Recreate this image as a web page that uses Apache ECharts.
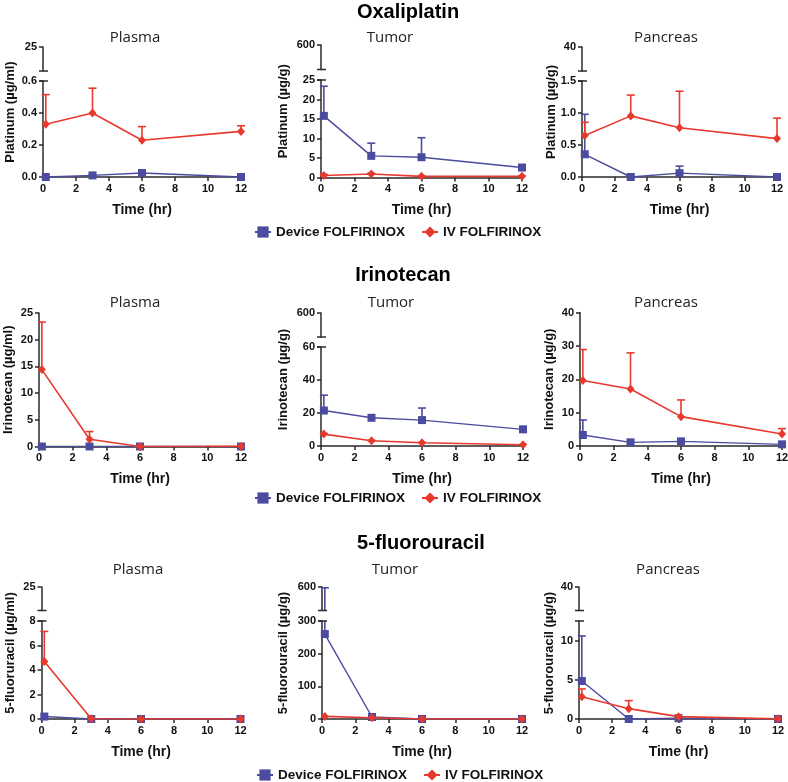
<!DOCTYPE html>
<html>
<head>
<meta charset="utf-8">
<script src="https://cdn.jsdelivr.net/npm/echarts@6/dist/echarts.min.js"></script>
<style>html,body{margin:0;padding:0;background:#fff}#main{width:788px;height:782px}</style>
</head>
<body>
<div id="main"></div>
<script>
// ---------------- DATA ----------------
const timePoints = [0.17, 3, 6, 12];
const seriesNames = ['Device FOLFIRINOX', 'IV FOLFIRINOX'];
const rowTitles = ['Oxaliplatin', 'Irinotecan', '5-fluorouracil'];
const tissueNames = ['Plasma', 'Tumor', 'Pancreas'];
const yAxisNames = [
  'Platinum (µg/ml)', 'Platinum (µg/g)', 'Platinum (µg/g)',
  'Irinotecan (µg/ml)', 'Irinotecan (µg/g)', 'Irinotecan (µg/g)',
  '5-fluoruracil (µg/ml)', '5-fluorouracil (µg/g)', '5-fluorouracil (µg/g)'
];
const xTicks = [0, 2, 4, 6, 8, 10, 12];

// Oxaliplatin
const oxPlasmaDevice = [0.0, 0.01, 0.025, 0.0];
const oxPlasmaDeviceTop = [0.0, 0.015, 0.035, 0.0];
const oxPlasmaIV = [0.33, 0.40, 0.23, 0.285];
const oxPlasmaIVTop = [0.515, 0.555, 0.315, 0.32];
const oxTumorDevice = [15.8, 5.55, 5.2, 2.56];
const oxTumorDeviceTop = [23.4, 8.8, 10.2, 2.9];
const oxTumorIV = [0.5, 0.9, 0.3, 0.3];
const oxTumorIVTop = [0.8, 1.1, 0.4, 0.4];
const oxPancDevice = [0.355, 0.0, 0.06, 0.0];
const oxPancDeviceTop = [0.98, 0.0, 0.17, 0.0];
const oxPancIV = [0.65, 0.955, 0.77, 0.6];
const oxPancIVTop = [0.855, 1.28, 1.34, 0.92];
// Irinotecan
const irPlasmaDevice = [0.0, 0.0, 0.0, 0.0];
const irPlasmaDeviceTop = [0.0, 0.0, 0.0, 0.0];
const irPlasmaIV = [14.4, 1.37, 0.0, 0.05];
const irPlasmaIVTop = [23.3, 2.8, 0.0, 0.05];
const irTumorDevice = [21.5, 17.1, 15.7, 10.1];
const irTumorDeviceTop = [30.8, 17.1, 23.0, 11.5];
const irTumorIV = [7.2, 3.2, 2.0, 0.8];
const irTumorIVTop = [7.6, 3.4, 2.2, 1.0];
const irPancDevice = [3.3, 1.1, 1.4, 0.5];
const irPancDeviceTop = [7.8, 1.1, 1.4, 0.5];
const irPancIV = [19.6, 17.1, 8.8, 3.6];
const irPancIVTop = [28.9, 27.9, 13.8, 5.2];
// 5-fluorouracil
const fuPlasmaDevice = [0.2, 0.0, 0.0, 0.0];
const fuPlasmaDeviceTop = [0.2, 0.0, 0.0, 0.0];
const fuPlasmaIV = [4.7, 0.02, 0.0, 0.0];
const fuPlasmaIVTop = [7.15, 0.02, 0.0, 0.0];
const fuTumorDevice = [260, 6.1, 0.0, 0.0];
const fuTumorDeviceTop = [590, 6.1, 0.0, 0.0];
const fuTumorIV = [8, 4, 0.0, 0.0];
const fuTumorIVTop = [8, 4, 0.0, 0.0];
const fuPancDevice = [4.85, 0.0, 0.1, 0.0];
const fuPancDeviceTop = [10.6, 0.0, 0.1, 0.0];
const fuPancIV = [2.85, 1.32, 0.3, 0.02];
const fuPancIVTop = [3.83, 2.34, 0.3, 0.02];

// ---------------- LAYOUT / STYLE ----------------
const BLUE = '#4b4b9f', RED = '#e8392e', AX = '#2a2a2a', TXT = '#111';
const FONT = '"Liberation Sans", Arial, sans-serif';
const SUBFONT = '"Open Sans", "Noto Sans", sans-serif';

const panels = [
  {x:43, w:198, upper:{top:47, bottom:71, min:0, max:25}, lower:{top:81, bottom:177, max:0.6, interval:0.2, dec:1}, gap:26,
   dev:oxPlasmaDevice, devTop:oxPlasmaDeviceTop, iv:oxPlasmaIV, ivTop:oxPlasmaIVTop},
  {x:321, w:201, upper:{top:45, bottom:69.5, min:0, max:600}, lower:{top:80, bottom:177.5, max:25, interval:5}, gap:31,
   dev:oxTumorDevice, devTop:oxTumorDeviceTop, iv:oxTumorIV, ivTop:oxTumorIVTop},
  {x:582, w:195, upper:{top:47, bottom:71, min:0, max:40}, lower:{top:81, bottom:177, max:1.5, interval:0.5, dec:1}, gap:24,
   dev:oxPancDevice, devTop:oxPancDeviceTop, iv:oxPancIV, ivTop:oxPancIVTop},
  {x:39, w:202, upper:null, lower:{top:313, bottom:446.5, max:25, interval:5}, gap:24,
   dev:irPlasmaDevice, devTop:irPlasmaDeviceTop, iv:irPlasmaIV, ivTop:irPlasmaIVTop},
  {x:321, w:202, upper:{top:313, bottom:337, min:0, max:600}, lower:{top:347, bottom:446, max:60, interval:20}, gap:31,
   dev:irTumorDevice, devTop:irTumorDeviceTop, iv:irTumorIV, ivTop:irTumorIVTop},
  {x:580, w:202, upper:null, lower:{top:312.5, bottom:446, max:40, interval:10}, gap:24,
   dev:irPancDevice, devTop:irPancDeviceTop, iv:irPancIV, ivTop:irPancIVTop},
  {x:41.5, w:199, upper:{top:587, bottom:610.5, min:0, max:25}, lower:{top:621, bottom:719, max:8, interval:2}, gap:25,
   dev:fuPlasmaDevice, devTop:fuPlasmaDeviceTop, iv:fuPlasmaIV, ivTop:fuPlasmaIVTop},
  {x:322, w:200, upper:{top:587, bottom:610.5, min:300, max:600}, lower:{top:621, bottom:719, max:300, interval:100}, gap:32,
   dev:fuTumorDevice, devTop:fuTumorDeviceTop, iv:fuTumorIV, ivTop:fuTumorIVTop},
  {x:579, w:199, upper:{top:587, bottom:610.5, min:0, max:40}, lower:{top:621, bottom:719, max:12.5, interval:5, hideMax:true}, gap:23,
   dev:fuPancDevice, devTop:fuPancDeviceTop, iv:fuPancIV, ivTop:fuPancIVTop}
];
const rowTitlePos = [[408, 12], [403, 275], [421, 543]];
const subTitlePos = [[[135,38],[390,38],[666,38]], [[135,303],[391,303],[666,303]], [[138,570],[395,570],[668,570]]];
const legendTop = [225, 491, 768];
const legendLeft = [254, 254, 256];

// ---------------- BUILD ----------------
const grids = [], xAxes = [], yAxes = [], series = [], titles = [], legends = [];
const axisLineStyle = {lineStyle: {color: AX, width: 1.5}};
const tickLabel = {color: TXT, fontFamily: FONT, fontWeight: 'bold', fontSize: 11};

function errRender(lo, hi, color) {
  return function (params, api) {
    const x = api.value(0), v = api.value(1), top = api.value(2);
    const a = Math.max(v, lo), b = Math.min(top, hi);
    if (!(b > a)) return null;
    const p1 = api.coord([x, a]), p2 = api.coord([x, b]);
    const children = [{type: 'line', shape: {x1: p1[0], y1: p1[1], x2: p2[0], y2: p2[1]}, style: {stroke: color, lineWidth: 1.6}}];
    if (top <= hi) children.push({type: 'line', shape: {x1: p2[0] - 4, y1: p2[1], x2: p2[0] + 4, y2: p2[1]}, style: {stroke: color, lineWidth: 1.6}});
    return {type: 'group', children: children};
  };
}
function breakRender(params, api) {
  const p = api.coord([api.value(0), api.value(1)]);
  return {type: 'line', shape: {x1: p[0] - 4, y1: p[1], x2: p[0] + 5, y2: p[1]}, style: {stroke: AX, lineWidth: 1.5}};
}
function addGrid(left, top, bottom, w) {
  grids.push({left: left, top: top, width: w, height: bottom - top, containLabel: false, outerBoundsMode: 'none'});
  return grids.length - 1;
}
function pairs(vals, tops) { return timePoints.map((t, k) => [t, vals[k], tops[k]]); }

panels.forEach((p, i) => {
  const row = Math.floor(i / 3);
  const fullTop = p.upper ? p.upper.top : p.lower.top;
  // frame grid, carries the y-axis title centred on the whole (broken) axis
  const fi = addGrid(p.x, fullTop, p.lower.bottom, p.w);
  xAxes.push({gridIndex: fi, show: false, type: 'value', min: 0, max: 12});
  yAxes.push({gridIndex: fi, type: 'value', min: 0, max: 1, axisLine: {show: false}, axisTick: {show: false},
    axisLabel: {show: false}, splitLine: {show: false}, name: yAxisNames[i], nameLocation: 'middle', nameGap: p.gap,
    nameTextStyle: {color: TXT, fontFamily: FONT, fontWeight: 'bold', fontSize: 13}});

  // lower (main) grid
  const L = p.lower;
  const li = addGrid(p.x, L.top, L.bottom, p.w);
  xAxes.push({gridIndex: li, type: 'value', min: 0, max: 12, interval: 2, axisLine: axisLineStyle,
    axisTick: {show: true, length: 4, lineStyle: {color: AX, width: 1.5}}, splitLine: {show: false},
    axisLabel: Object.assign({margin: 6}, tickLabel), name: 'Time (hr)', nameLocation: 'middle', nameGap: 26,
    nameTextStyle: {color: TXT, fontFamily: FONT, fontWeight: 'bold', fontSize: 14}});
  yAxes.push({gridIndex: li, type: 'value', min: 0, max: L.max, interval: L.interval, axisLine: axisLineStyle,
    axisTick: {show: true, length: 4, lineStyle: {color: AX, width: 1.5}}, splitLine: {show: false},
    axisLabel: Object.assign({margin: 6, showMaxLabel: !L.hideMax, formatter: v => L.dec ? v.toFixed(L.dec) : String(v)}, tickLabel)});

  series.push({type: 'custom', name: 'err-dev', xAxisIndex: li, yAxisIndex: li, z: 1, silent: true,
    renderItem: errRender(0, L.max, BLUE), data: pairs(p.dev, p.devTop)});
  series.push({type: 'custom', name: 'err-iv', xAxisIndex: li, yAxisIndex: li, z: 1, silent: true,
    renderItem: errRender(0, L.max, RED), data: pairs(p.iv, p.ivTop)});
  series.push({type: 'line', name: seriesNames[0], xAxisIndex: li, yAxisIndex: li, z: 3, symbol: 'rect', symbolSize: 8,
    itemStyle: {color: BLUE}, lineStyle: {color: BLUE, width: 1.4}, data: timePoints.map((t, k) => [t, p.dev[k]])});
  series.push({type: 'line', name: seriesNames[1], xAxisIndex: li, yAxisIndex: li, z: 4, symbol: 'diamond', symbolSize: [8, 9],
    itemStyle: {color: RED}, lineStyle: {color: RED, width: 1.6}, data: timePoints.map((t, k) => [t, p.iv[k]])});

  if (p.upper) {
    const U = p.upper;
    const gapStart = Math.max(U.min, L.max);
    const ui = addGrid(p.x, U.top, U.bottom, p.w);
    xAxes.push({gridIndex: ui, show: false, type: 'value', min: 0, max: 12});
    yAxes.push({gridIndex: ui, type: 'value', min: U.min, max: U.max, interval: U.max - U.min, axisLine: axisLineStyle,
      axisTick: {show: true, length: 4, lineStyle: {color: AX, width: 1.5}}, splitLine: {show: false},
      axisLabel: Object.assign({margin: 6, showMinLabel: false}, tickLabel)});
    series.push({type: 'custom', name: 'err-dev-up', xAxisIndex: ui, yAxisIndex: ui, z: 1, silent: true,
      renderItem: errRender(gapStart, U.max, BLUE), data: pairs(p.dev, p.devTop)});
    series.push({type: 'custom', name: 'err-iv-up', xAxisIndex: ui, yAxisIndex: ui, z: 1, silent: true,
      renderItem: errRender(gapStart, U.max, RED), data: pairs(p.iv, p.ivTop)});
    // axis break marks
    series.push({type: 'custom', name: 'brk-up', xAxisIndex: ui, yAxisIndex: ui, z: 2, silent: true,
      renderItem: breakRender, data: [[0, U.min]]});
    series.push({type: 'custom', name: 'brk-low', xAxisIndex: li, yAxisIndex: li, z: 2, silent: true,
      renderItem: breakRender, data: [[0, L.max]]});
  }

  const sp = subTitlePos[row][i % 3];
  titles.push({text: tissueNames[i % 3], left: sp[0], top: sp[1], textAlign: 'center', textVerticalAlign: 'middle', padding: 0,
    textStyle: {fontFamily: SUBFONT, fontWeight: 'normal', fontSize: 15, color: '#222'}});
});

rowTitles.forEach((t, r) => {
  titles.push({text: t, left: rowTitlePos[r][0], top: rowTitlePos[r][1], textAlign: 'center', textVerticalAlign: 'middle', padding: 0,
    textStyle: {fontFamily: FONT, fontWeight: 'bold', fontSize: 20, color: '#000'}});
  legends.push({data: seriesNames, left: legendLeft[r], top: legendTop[r], padding: 0, itemWidth: 16, itemHeight: 14, itemGap: 16,
    selectedMode: false, textStyle: {fontFamily: FONT, fontWeight: 'bold', fontSize: 13.5, color: TXT}});
});

const chart = echarts.init(document.getElementById('main'), null, {renderer: 'canvas'});
chart.setOption({
  animation: false,
  backgroundColor: '#fff',
  title: titles,
  legend: legends,
  grid: grids,
  xAxis: xAxes,
  yAxis: yAxes,
  series: series
});
</script>
</body>
</html>
